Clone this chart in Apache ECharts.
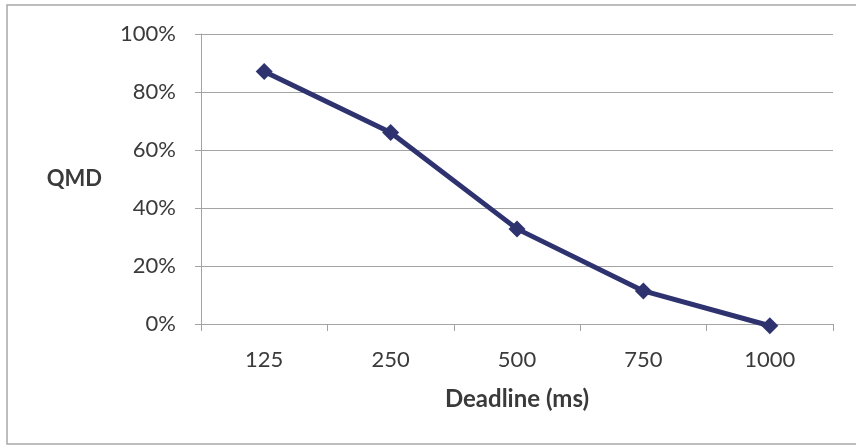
<!DOCTYPE html>
<html>
<head>
<meta charset="utf-8">
<script src="https://cdn.jsdelivr.net/npm/echarts@6/dist/echarts.min.js"></script>
<style>
  html, body { margin: 0; padding: 0; background: #fff; }
  #chart { width: 856px; height: 446px; }
</style>
</head>
<body>
<div id="chart"></div>
<script>
// Deadline categories (ms) and QMD share (%) for each
const deadlines = ['125', '250', '500', '750', '1000'];
const qmd = [87.1, 66.0, 32.8, 11.4, -0.6];
const yTicks = { min: 0, max: 100, step: 20 };

const chart = echarts.init(document.getElementById('chart'));
const font = 'Lato, "Open Sans", sans-serif';
const gridColor = '#a3a3a3';
const textColor = '#3a3a3a';

chart.setOption({
  animation: false,
  backgroundColor: '#ffffff',
  grid: { left: 201, right: 23, top: 34, bottom: 122, containLabel: false },
  graphic: [{
    type: 'rect',
    shape: { x: 7, y: 5, width: 860, height: 439 },
    style: { fill: 'none', stroke: '#a8a8a8', lineWidth: 1.5 },
    silent: true
  }],
  xAxis: {
    type: 'category',
    data: deadlines,
    boundaryGap: true,
    name: 'Deadline (ms)',
    nameLocation: 'middle',
    nameGap: 63,
    nameTextStyle: { fontFamily: font, fontSize: 24, fontWeight: 'bold', color: textColor },
    axisLine: { lineStyle: { color: gridColor, width: 1 } },
    axisTick: { show: true, length: 7, lineStyle: { color: gridColor } },
    axisLabel: { margin: 25, fontFamily: font, fontSize: 22, color: textColor }
  },
  yAxis: {
    type: 'value',
    min: yTicks.min,
    max: yTicks.max,
    interval: yTicks.step,
    name: 'QMD',
    nameLocation: 'middle',
    nameRotate: 0,
    nameGap: 99,
    nameTextStyle: { fontFamily: font, fontSize: 22, fontWeight: 'bold', color: textColor, align: 'right' },
    axisLine: { show: true, lineStyle: { color: gridColor, width: 1 } },
    axisTick: { show: true, length: 6, lineStyle: { color: gridColor } },
    axisLabel: { margin: 25, fontFamily: font, fontSize: 22, color: textColor, formatter: '{value}%' },
    splitLine: { show: true, lineStyle: { color: gridColor, width: 1 } }
  },
  series: [{
    type: 'line',
    data: qmd,
    clip: false,
    symbol: 'diamond',
    symbolSize: 17,
    lineStyle: { color: '#2e3370', width: 5 },
    itemStyle: { color: '#2e3370' }
  }]
});
</script>
</body>
</html>
